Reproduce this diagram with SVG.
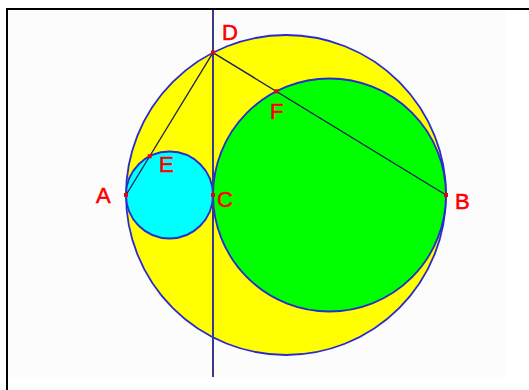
<svg xmlns="http://www.w3.org/2000/svg" width="529" height="390" viewBox="0 0 529 390">
<style>
.circ{stroke:#2a2ad0;stroke-width:1.8}
.seg{stroke:#1c1c5c;stroke-width:1.3;fill:none}
.vline{stroke:#3a3a8c;stroke-width:2;fill:none}
.pt{fill:#ee0000}
.lbl{font-family:"Liberation Sans",Arial,sans-serif;font-size:22px;fill:#ff0000;stroke:#ff0000;stroke-width:0.6}
</style>
<rect x="0" y="0" width="529" height="390" fill="#ffffff"/>
<rect x="8" y="10" width="498" height="367" fill="#fcfcfc"/>
<path d="M7 390 V9 H529" fill="none" stroke="#000" stroke-width="2"/>
<g id="circle-main"><circle class="circ" cx="286" cy="195" r="160" fill="#ffff00"/></g>
<g id="circle-green"><circle class="circ" cx="329.5" cy="195" r="116.5" fill="#00ff00"/></g>
<g id="circle-cyan"><circle class="circ" cx="169.5" cy="195" r="43.5" fill="#00ffff"/></g>
<g id="connectors">
<line class="vline" x1="213" y1="10" x2="213" y2="377"/>
<line class="seg" x1="213" y1="52.6" x2="126" y2="195"/>
<line class="seg" x1="213" y1="52.6" x2="446" y2="195"/>
</g>
<g id="pt-A"><rect class="pt" x="124" y="193" width="4" height="4"/><text class="lbl" x="96" y="203">A</text></g>
<g id="pt-B"><rect class="pt" x="444" y="193" width="4" height="4"/><text class="lbl" x="455" y="209">B</text></g>
<g id="pt-C"><rect class="pt" x="211" y="193" width="4" height="4"/><text class="lbl" x="217" y="207">C</text></g>
<g id="pt-D"><rect class="pt" x="211" y="50.6" width="4" height="4"/><text class="lbl" x="222" y="40">D</text></g>
<g id="pt-E"><rect class="pt" x="147.6" y="154.3" width="4" height="4"/><text class="lbl" x="159" y="172">E</text></g>
<g id="pt-F"><rect class="pt" x="274.4" y="89.3" width="4" height="4"/><text class="lbl" x="270" y="119">F</text></g>
</svg>
